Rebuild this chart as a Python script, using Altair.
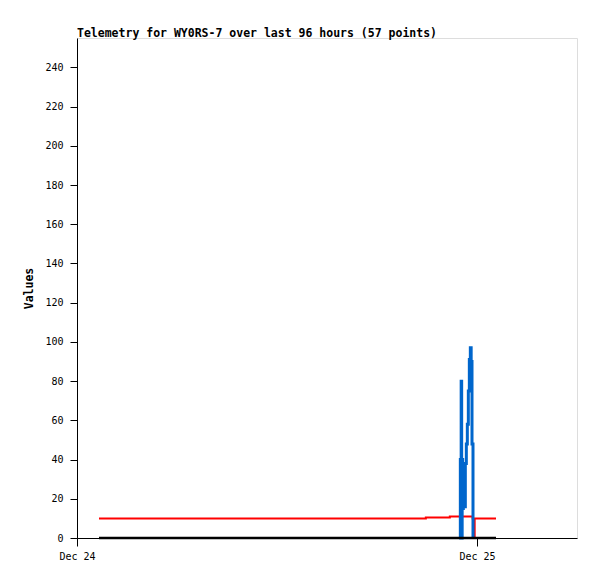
import altair as alt
import pandas as pd

BASE = pd.Timestamp("2023-12-24 00:00")

# hours after Dec 24 00:00
black_hours = [1.32, 25.14]
black_vals = [0, 0]

red_hours = [1.32, 20.93, 22.37, 23.0, 23.74, 23.84, 23.86, 25.14]
red_vals = [10, 10.5, 11, 11, 10, 0, 10, 10]

blue_hours = [22.98, 23.00, 23.02, 23.05, 23.08, 23.11, 23.14, 23.18, 23.24, 23.30,
              23.36, 23.42, 23.48, 23.54, 23.60, 23.65, 23.70, 23.74, 23.76]
blue_vals = [0, 40, 0, 80, 0, 40, 15, 27, 16, 38,
             48, 58, 75, 91, 97, 90, 48, 48, 0]

Y_TICKS = list(range(0, 241, 20))
TITLE = "Telemetry for WY0RS-7 over last 96 hours (57 points)"
FONT = "DejaVu Sans Mono"


def frame(hours, vals, name):
    return pd.DataFrame({
        "time": [(BASE + pd.Timedelta(hours=h)).strftime("%Y-%m-%dT%H:%M:%S") for h in hours],
        "value": vals,
        "order": list(range(len(vals))),
        "series": name,
    })


x_scale = alt.Scale(domain=[alt.DateTime(year=2023, month=12, date=24, hours=0),
                            alt.DateTime(year=2023, month=12, date=25, hours=6)])
y_scale = alt.Scale(domain=[0, 255], nice=False)

x_enc = alt.X("time:T", scale=x_scale, title=None,
              axis=alt.Axis(format="%b %d", tickCount={"interval": "day", "step": 1},
                            grid=False, tickSize=8, labelPadding=5, labelFlush=False,
                            labelFont=FONT, labelFontSize=10, labelColor="black",
                            domainColor="black", tickColor="black"))
y_enc = alt.Y("value:Q", scale=y_scale, title="Values",
              axis=alt.Axis(values=Y_TICKS, grid=False, tickSize=7, labelPadding=7,
                            labelFont=FONT, labelFontSize=10, labelColor="black",
                            titleFont=FONT, titleFontSize=11.5, titleFontWeight="bold",
                            titleColor="black", titlePadding=10,
                            domainColor="black", tickColor="black"))


def line(df, color, width):
    return alt.Chart(df).mark_line(color=color, strokeWidth=width, strokeCap="butt",
                                   strokeJoin="miter", interpolate="step-after").encode(
        x=x_enc, y=y_enc, order="order:Q")


chart = alt.layer(
    line(frame(red_hours, red_vals, "red"), "#ff0000", 2),
    line(frame(blue_hours, blue_vals, "blue"), "#0066cc", 3),
    line(frame(black_hours, black_vals, "black"), "#000000", 2.5),
).properties(
    width=500, height=500,
    title=alt.TitleParams(TITLE, anchor="start", frame="group", font=FONT, fontSize=11.5,
                          fontWeight="bold", color="black", offset=-1),
    autosize=alt.AutoSizeParams(type="none"),
    padding={"left": 69, "top": 30, "right": 12, "bottom": 33},
).configure_view(
    stroke="#555555", strokeWidth=1
).configure_axis(
    domainWidth=1, tickWidth=1,
).configure(background="white")

chart.save("out.html", embed_options={"renderer": "svg", "actions": False})
